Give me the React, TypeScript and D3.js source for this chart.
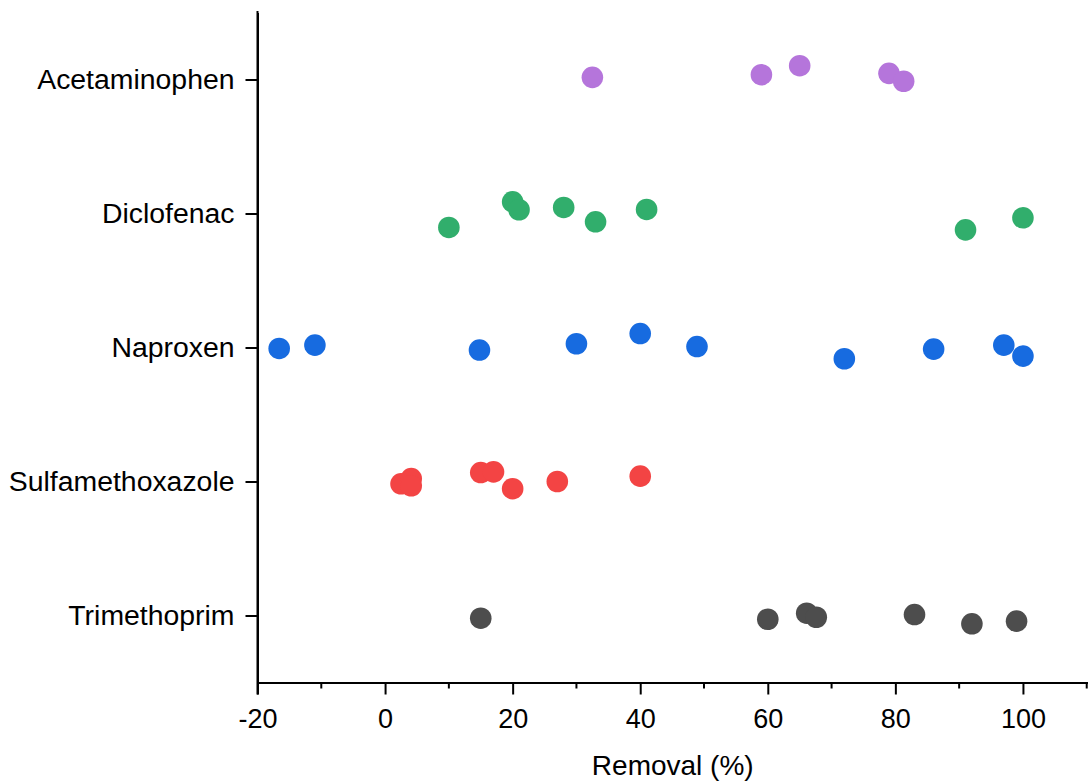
import React, { useRef, useEffect } from 'react';
import * as d3 from 'd3';

// categories top to bottom
const compounds = ['Acetaminophen', 'Diclofenac', 'Naproxen', 'Sulfamethoxazole', 'Trimethoprim'];
const colors = ['#B575DB', '#31AE6C', '#176BE0', '#F34444', '#4D4D4D'];

// removal values (%) per compound
const acetaminophen = [32.5, 59, 65, 79, 81.3];
const diclofenac = [10, 20, 21, 28, 33, 41, 91, 100];
const naproxen = [-16.6, -11, 14.8, 30, 40, 48.9, 72, 86, 97, 100];
const sulfamethoxazole = [2.5, 4.1, 4.1, 15, 17, 20, 27, 40];
const trimethoprim = [15, 60, 66.1, 67.6, 83, 92, 99];

// vertical jitter, in category units (positive = up)
const acetaminophenJitter = [0.016, 0.036, 0.103, 0.046, -0.013];
const diclofenacJitter = [-0.104, 0.087, 0.028, 0.045, -0.062, 0.03, -0.122, -0.032];
const naproxenJitter = [-0.007, 0.018, -0.019, 0.028, 0.104, 0.007, -0.084, -0.012, 0.018, -0.064];
const sulfamethoxazoleJitter = [-0.017, 0.022, -0.032, 0.067, 0.072, -0.054, 0, 0.04];
const trimethoprimJitter = [-0.02, -0.028, 0.017, -0.013, 0.007, -0.062, -0.042];

const values = [acetaminophen, diclofenac, naproxen, sulfamethoxazole, trimethoprim];
const jitters = [acetaminophenJitter, diclofenacJitter, naproxenJitter, sulfamethoxazoleJitter, trimethoprimJitter];

const majorTicks = [-20, 0, 20, 40, 60, 80, 100];
const minorTicks = [-10, 10, 30, 50, 70, 90, 110];

const WIDTH = 1088;
const HEIGHT = 782;
const FONT = '"Liberation Sans", Arial, sans-serif';

export default function App() {
  const svgRef = useRef<SVGSVGElement>(null);

  useEffect(() => {
    const svg = d3.select(svgRef.current);
    svg.selectAll('*').remove();

    const left = 257.5;
    const right = WIDTH;
    const top = 12.5;
    const bottom = 682.5;

    const x = d3.scaleLinear().domain([-20, 110.2]).range([left, right]);
    // category index: top one gets 5, bottom one gets 1
    const y = d3.scaleLinear().domain([0.5, 5.5]).range([bottom, top]);
    const catPos = (i: number) => compounds.length - i;

    // points
    const points = values.flatMap((vals, ci) =>
      vals.map((v, j) => ({ v, c: ci, off: jitters[ci][j] }))
    );
    svg.append('g')
      .selectAll('circle')
      .data(points)
      .join('circle')
      .attr('cx', d => x(d.v))
      .attr('cy', d => y(catPos(d.c) + d.off))
      .attr('r', 10.8)
      .attr('fill', d => colors[d.c]);

    // x axis
    const xAxis = svg.append('g')
      .attr('transform', `translate(0,${bottom})`)
      .call(d3.axisBottom(x).tickValues(majorTicks).tickSize(12).tickPadding(14).tickSizeOuter(0).tickFormat(d => String(d)));
    xAxis.select('.domain').attr('stroke-width', 2).attr('stroke', '#000');
    xAxis.selectAll('.tick line').attr('stroke-width', 2);
    xAxis.selectAll('.tick text')
      .attr('font-size', 27)
      .attr('font-family', FONT)
      .attr('fill', '#000');

    svg.append('g')
      .selectAll('line')
      .data(minorTicks.filter(t => x(t) < right))
      .join('line')
      .attr('x1', d => x(d)).attr('x2', d => x(d))
      .attr('y1', bottom).attr('y2', bottom + 6)
      .attr('stroke', '#000')
      .attr('stroke-width', 2);

    // y axis
    const yAxis = svg.append('g')
      .attr('transform', `translate(${left},0)`)
      .call(d3.axisLeft(y)
        .tickValues(compounds.map((_, i) => catPos(i)))
        .tickFormat(d => compounds[compounds.length - (d as number)])
        .tickSize(12).tickPadding(11).tickSizeOuter(0));
    yAxis.select('.domain').attr('stroke-width', 2).attr('stroke', '#000');
    yAxis.selectAll('.tick line').attr('stroke-width', 2);
    yAxis.selectAll('.tick text')
      .attr('font-size', 28.4)
      .attr('font-family', FONT)
      .attr('fill', '#000');

    // y axis line continues a little above the plot and below the x axis
    svg.append('line')
      .attr('x1', left).attr('x2', left)
      .attr('y1', 11).attr('y2', bottom + 12)
      .attr('stroke', '#000')
      .attr('stroke-width', 2);

    // axis title
    svg.append('text')
      .attr('x', (left + right) / 2)
      .attr('y', 775)
      .attr('text-anchor', 'middle')
      .attr('font-size', 28)
      .attr('font-family', FONT)
      .attr('fill', '#000')
      .text('Removal (%)');
  }, []);

  return (
    <svg
      ref={svgRef}
      width={WIDTH}
      height={HEIGHT}
      style={{ position: 'absolute', left: 0, top: 0, background: '#fff' }}
    />
  );
}
